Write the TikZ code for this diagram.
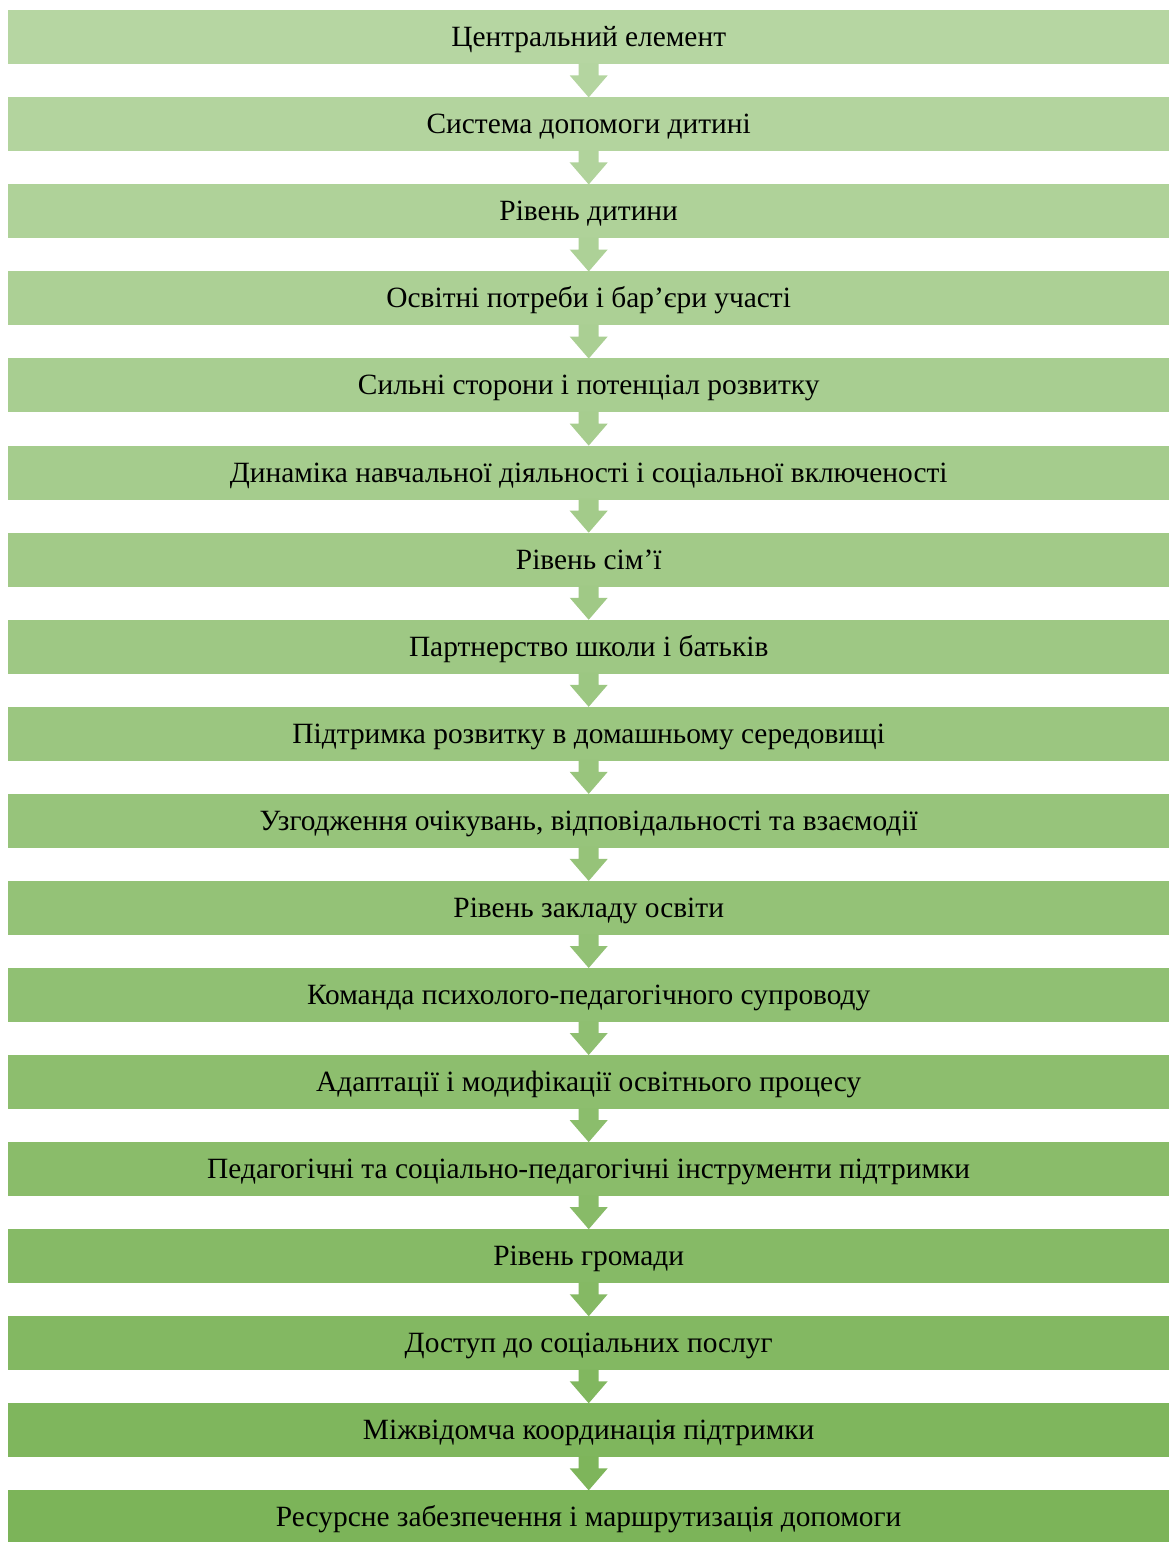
\documentclass[tikz,border=0pt]{standalone}
\usepackage{fontspec}
\setmainfont{Liberation Serif}
\usetikzlibrary{calc}
\definecolor{lightg}{RGB}{182,214,162}
\definecolor{darkg}{RGB}{124,180,89}
\begin{document}
\begin{tikzpicture}[x=1pt,y=-1pt,
  box/.style={minimum width=1161pt, minimum height=54pt, inner sep=0pt, anchor=north west,
    text height=21.5pt, text depth=2.5pt,
    font=\fontsize{29.4}{32}\selectfont, text=black},
  downarrow/.style={draw=none}]
\useasboundingbox (0,0) rectangle (1169,1542);
\foreach [count=\i from 0] \t in {
  {Центральний елемент},
  {Система допомоги дитині},
  {Рівень дитини},
  {Освітні потреби і бар’єри участі},
  {Сильні сторони і потенціал розвитку},
  {Динаміка навчальної діяльності і соціальної включеності},
  {Рівень сім’ї},
  {Партнерство школи і батьків},
  {Підтримка розвитку в домашньому середовищі},
  {Узгодження очікувань, відповідальності та взаємодії},
  {Рівень закладу освіти},
  {Команда психолого-педагогічного супроводу},
  {Адаптації і модифікації освітнього процесу},
  {Педагогічні та соціально-педагогічні інструменти підтримки},
  {Рівень громади},
  {Доступ до соціальних послуг},
  {Міжвідомча координація підтримки},
  {Ресурсне забезпечення і маршрутизація допомоги}} {
  \pgfmathsetmacro\pct{100*\i/17}
  \colorlet{cur}{darkg!\pct!lightg}
  \node[box, fill=cur] (b\i) at (8,{10+87.06*\i}) {\t};
}
\foreach \i in {0,...,16} {
  \pgfmathsetmacro\pct{100*(\i+0.5)/17}
  \colorlet{cur}{darkg!\pct!lightg}
  \fill[cur, downarrow] ($(b\i.south)+(-10,-1)$) -- ++(20,0) -- ++(0,12) -- ++(9,0)
     -- ($(b\i.south)+(0,33)$) -- ($(b\i.south)+(-19,11)$) -- ++(9,0) -- cycle;
}
\end{tikzpicture}
\end{document}
